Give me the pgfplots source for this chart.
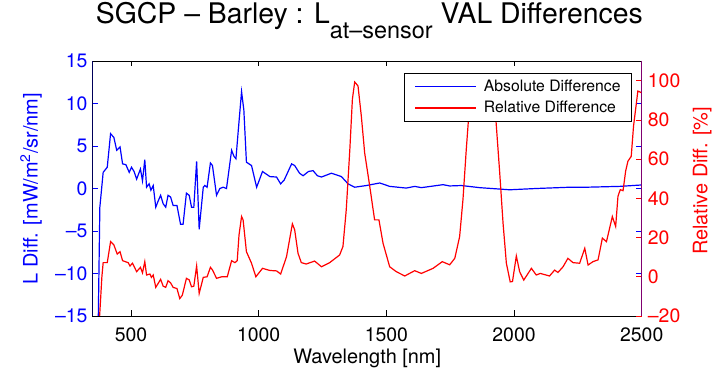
\documentclass[border=0pt]{standalone}
\usepackage{pgfplots}
\pgfplotsset{compat=1.18}
\usepackage{fontspec}
\setmainfont{TeX Gyre Heros}
\definecolor{mblue}{RGB}{0,0,255}
\definecolor{mred}{RGB}{255,0,0}
\definecolor{mpurple}{RGB}{128,0,112}
\newcommand{\tickfont}{\fontsize{19.5}{19.5}\selectfont}
\newcommand{\labfont}{\fontsize{20}{20}\selectfont}

\begin{document}
\begin{tikzpicture}
\begin{axis}[
  scale only axis, width=549bp, height=255bp,
  xmin=350, xmax=2500, ymin=-15, ymax=15,
  xtick={500,1000,1500,2000,2500},
  xticklabels={500,1000,1500,2000,2500},
  ytick={-15,-10,-5,0,5,10,15},
  yticklabels={–15,–10,–5,0,5,10,15},
  xtick pos=both, ytick pos=both, tick align=inside,
  major tick length=5.5bp,
  axis line style={black, line width=0.8bp},
  x tick style={black, line width=0.6bp},
  y tick style={mblue, line width=0.6bp},
  xticklabel style={font=\tickfont, anchor=north, inner sep=0pt, yshift=-12bp},
  yticklabel style={font=\tickfont, text=mblue, anchor=east, inner sep=0pt, xshift=-5bp},
  xlabel={Wavelength [nm]},
  xlabel style={font=\labfont, at={(axis description cs:0.5,0)}, anchor=north, inner sep=0pt, yshift=-33bp},
  ylabel={L Diff. [mW/m\textsuperscript{2}/sr/nm]},
  ylabel style={font=\labfont, text=mblue, at={(axis description cs:-0.0924,0.5)}, rotate=0, anchor=south, inner sep=0pt},
  title={SGCP – Barley : L\raisebox{-15bp}{\fontsize{23.5}{23.5}\selectfont at–sensor} VAL Differences},
  title style={font=\fontsize{28.5}{28.5}\selectfont, at={(axis description cs:0.504,1)}, anchor=base, inner sep=0pt, yshift=31.7bp},
]
\coordinate (bbsw) at (rel axis cs:0,0);
\addplot[mblue, line width=1.2bp] coordinates {
(365,-25) (372,-15) (378,-2.2) (391,1.9) (407,2.5) (420,6.45) (433,6.0) (444,4.5)
(457,4.9) (467,2.9) (480,2.8) (493,1.9) (502,2.5) (512,2.0) (522,1.1) (537,2.3)
(545,0.9) (554,3.4) (561,0.15) (571,0.55) (578,-0.2) (587,0.35) (597,-2.2) (606,-1.5)
(616,-0.8) (626,-1.8) (636,-2.2) (645,-0.8) (655,-1.0) (665,-2.0) (680,-2.0) (694,-4.2)
(704,-4.2) (717,-0.55) (728,-0.8) (737,-2.2) (746,-2.2) (757,3.2) (767,-4.8) (783,0.15)
(789,0.35) (798,0.15) (811,3.0) (819,2.7) (835,-0.8) (848,0) (861,0.15) (874,0)
(894,4.5) (903,3.8) (911,3.5) (920,6.8) (933,11.4) (942,9.2) (952,3.1) (972,2.7)
(992,0.15) (1015,2.0) (1044,1.4) (1070,1.35) (1086,0.55) (1100,1.0) (1129,2.9) (1141,2.7)
(1160,1.8) (1174,1.5) (1195,2.0) (1213,2.1) (1230,1.5) (1246,1.35) (1285,1.8) (1324,1.4)
(1350,0.55) (1376,0.15) (1422,0.35) (1474,0.65) (1513,0.25) (1578,0.05) (1611,0.25) (1637,0.1)
(1722,0.45) (1748,0.3) (1794,0.35) (1865,0.1) (1983,-0.15) (2087,0) (2218,0.15) (2283,0.15)
(2414,0.25) (2492,0.4) (2500,0.4)
};
\draw[mblue, line width=0.8bp] (rel axis cs:0,0) -- (rel axis cs:0,1);
\end{axis}
\begin{axis}[
  scale only axis, width=549bp, height=255bp,
  xmin=350, xmax=2500, ymin=-20, ymax=110,
  axis x line=none, axis y line*=right,
  ytick={-20,0,20,40,60,80,100},
  yticklabels={–20,0,20,40,60,80,100},
  tick align=inside, major tick length=5.5bp,
  axis line style={mpurple, line width=0.8bp, -},
  y tick style={mred, line width=0.6bp},
  yticklabel style={font=\tickfont, text=mred, anchor=west, inner sep=0pt, xshift=6bp},
  ylabel={Relative Diff. [\%]},
  ylabel style={font=\labfont, text=mred, at={(axis description cs:1.0929,0.53)}, rotate=0, anchor=north, inner sep=0pt},
  legend style={at={(axis description cs:0.9823,0.953)}, anchor=north east, draw=black, line width=0.8bp, fill=white,
    font=\fontsize{15.8}{15.8}\selectfont, inner xsep=10bp, inner ysep=6bp, row sep=6bp, column sep=6bp,
    nodes={inner sep=1bp, text=black}},
  legend cell align=left,
  legend image code/.code={\draw[#1, line width=1.2bp] (0bp,0bp) -- (61bp,0bp);},
]
\addlegendimage{mblue, line width=1.2bp}
\addplot[mred, line width=1.2bp] coordinates {
(368,-40) (378,-18) (386,0) (391,7.2) (407,7.2) (420,17.9) (433,16.2) (446,11.6)
(457,12.8) (467,8.2) (489,7.2) (496,5.5) (506,6.9) (522,2.6) (537,4.8) (545,2.0)
(554,7.7) (561,0.9) (574,1.4) (580,-0.3) (587,0.9) (597,-5.4) (616,-1.3) (626,-4.8)
(636,-5.4) (645,-2.0) (655,-3.1) (665,-5.4) (680,-6.0) (691,-11.1) (701,-9.4) (717,-0.8)
(728,-1.6) (737,-5.1) (746,-4.8) (757,5.5) (767,-8.5) (783,-0.3) (798,0) (811,4.8)
(819,3.5) (835,-0.8) (855,0) (877,0) (894,8.2) (907,7.2) (916,8.2) (923,21.3)
(933,30.7) (939,29) (952,12.8) (972,6.9) (989,0) (1015,4.3) (1044,3.2) (1070,3)
(1086,1.4) (1109,10.2) (1132,27) (1141,23.9) (1154,12) (1167,7.2) (1186,6.5) (1219,8)
(1246,5.1) (1278,7.2) (1317,11.1) (1330,15.4) (1343,34.2) (1357,64.9) (1367,90.5) (1376,99.3)
(1389,97.3) (1402,81.9) (1415,63.2) (1435,46.1) (1454,29) (1471,29) (1487,17.1) (1513,5.1)
(1539,2.6) (1572,0.4) (1611,3.1) (1637,1.7) (1683,4.3) (1719,7.7) (1748,6.1) (1768,9.4)
(1787,20.5) (1800,39.3) (1813,64.9) (1826,88) (1845,97) (1870,100) (1900,99) (1918,94)
(1928,81.9) (1944,52.9) (1957,27.3) (1970,6.9) (1985,-2.6) (1994,-2.4) (2009,10.6) (2022,2.6)
(2038,-1.7) (2068,4.3) (2087,0.9) (2103,1.7) (2139,0.4) (2159,3.4) (2172,2.2) (2192,5.1)
(2211,9.4) (2231,7.2) (2257,6.9) (2277,14.5) (2290,6) (2309,7.7) (2329,8.6) (2346,19.7)
(2362,17.9) (2385,30.7) (2398,25.6) (2407,41) (2416,44.4) (2427,43.9) (2437,53.8) (2446,58.9)
(2459,61.4) (2468,76.8) (2485,94.7) (2498,93.9)
};
\legend{Absolute Difference, Relative Difference}
\end{axis}
\pgfresetboundingbox
\path (bbsw) ++(-92.7bp,-55bp) rectangle ++(713bp,371bp);
\end{tikzpicture}
\end{document}
